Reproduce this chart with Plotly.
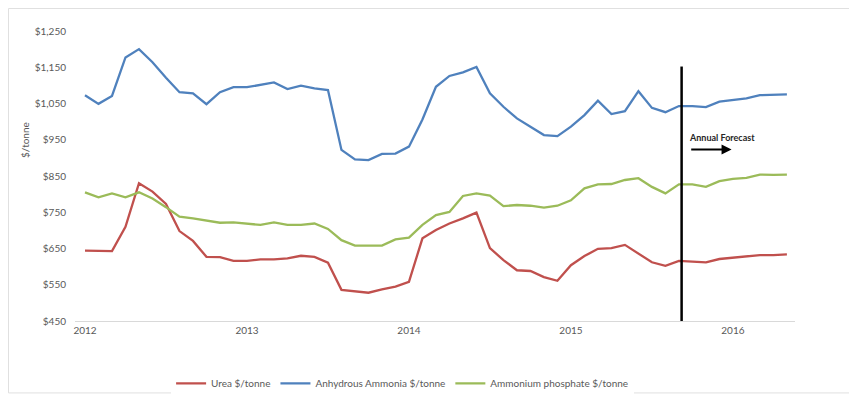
import plotly.graph_objects as go

# Monthly, Jan 2012 .. May 2016 (index 0..52)
month_index = list(range(53))
urea = [644, 643, 643, 710, 830, 807, 773, 698, 671, 627, 626, 616,
        616, 620, 620, 623, 630, 627, 611, 536, 531, 528, 537, 545,
        558, 678, 701, 719, 733, 749, 651, 618, 590, 588, 571, 561,
        604, 629, 649, 651, 660, 637, 612, 602, 616, 614, 612, 621,
        625, 627, 632, 632, 634]
anhydrous = [1073, 1049, 1071, 1177, 1200, 1164, 1121, 1081, 1078, 1048, 1081, 1095,
             1095, 1101, 1108, 1090, 1099, 1092, 1087, 922, 896, 894, 911, 912,
             931, 1006, 1096, 1126, 1136, 1151, 1078, 1041, 1009, 986, 963, 960,
             986, 1018, 1058, 1021, 1029, 1084, 1038, 1026, 1043, 1043, 1040, 1055,
             1060, 1064, 1073, 1073, 1075]
phosphate = [805, 791, 802, 791, 805, 788, 764, 738, 733, 726, 721, 722,
             718, 715, 722, 715, 715, 719, 704, 673, 658, 657, 658, 675,
             680, 715, 742, 751, 795, 802, 796, 767, 770, 768, 763, 768,
             783, 816, 827, 828, 839, 844, 820, 802, 827, 827, 820, 836,
             842, 845, 854, 853, 854]
year_ticks = [0, 12, 24, 36, 48]
year_labels = ["2012", "2013", "2014", "2015", "2016"]
y_ticks = [450, 550, 650, 750, 850, 950, 1050, 1150, 1250]
y_labels = ["$450", "$550", "$650", "$750", "$850", "$950", "$1,050", "$1,150", "$1,250"]
forecast_start = 44.2

series = [
    ("Urea $/tonne", urea, "#C0504D"),
    ("Anhydrous Ammonia $/tonne", anhydrous, "#4F81BD"),
    ("Ammonium phosphate $/tonne", phosphate, "#9BBB59"),
]

fig = go.Figure()
for name, vals, col in series:
    fig.add_trace(go.Scatter(x=month_index, y=vals, mode="lines", name=name,
                             line=dict(color=col, width=2.3)))

grey = "#595959"
fig.update_layout(
    width=849, height=392,
    margin=dict(l=67, r=62, t=23, b=79, autoexpand=False),
    paper_bgcolor="white", plot_bgcolor="white",
    font=dict(family="Lato, Open Sans, sans-serif", size=10, color=grey),
    showlegend=True,
    legend=dict(orientation="h", x=0.455, xanchor="center", y=-0.215, yanchor="middle",
                font=dict(size=10, color=grey), itemwidth=30, tracegroupgap=0),
    xaxis=dict(range=[-0.74, 52.6], tickmode="array", tickvals=year_ticks,
               ticktext=year_labels, showgrid=False, zeroline=False, automargin=False,
               showline=True, linecolor="#D9D9D9", linewidth=1, ticks="",
               tickfont=dict(size=10, color=grey)),
    yaxis=dict(range=[450, 1250], tickmode="array", tickvals=y_ticks,
               ticktext=y_labels, showgrid=False, zeroline=False, showline=False,
               automargin=False, ticks="", ticklabelstandoff=8,
               tickfont=dict(size=10, color=grey)),
)

# y-axis title
fig.add_annotation(xref="paper", yref="paper", x=-0.0694, y=0.624, text="$/tonne",
                   textangle=-90, showarrow=False, xanchor="center", yanchor="middle",
                   font=dict(size=10, color=grey))

# forecast divider
fig.add_shape(type="line", xref="x", yref="y", x0=forecast_start, x1=forecast_start,
              y0=450, y1=1152, line=dict(color="black", width=2.5))
fig.add_annotation(xref="x", yref="y", x=forecast_start + 0.4, y=955, xanchor="left",
                   text="<b>Annual Forecast</b>", showarrow=False,
                   font=dict(size=9, color="#262626"))
fig.add_annotation(xref="x", yref="y", x=forecast_start + 3.7, y=923,
                   ax=forecast_start + 0.6, ay=923, axref="x", ayref="y",
                   text="", showarrow=True, arrowhead=2, arrowsize=1, arrowwidth=2,
                   arrowcolor="black")
# chart border
fig.add_shape(type="rect", xref="paper", yref="paper", x0=-0.0924, x1=1.083,
              y0=-0.248, y1=1.0776, line=dict(color="#E0E0E0", width=1))

fig.write_html("out.html")
